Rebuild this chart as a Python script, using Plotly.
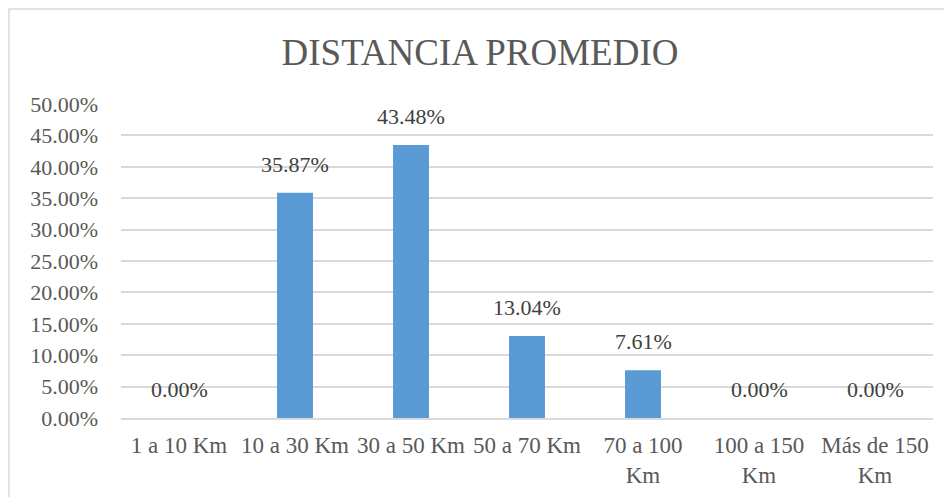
import plotly.graph_objects as go

categories = ["1 a 10 Km", "10 a 30 Km", "30 a 50 Km", "50 a 70 Km",
              "70 a 100<br>Km", "100 a 150<br>Km", "Más de 150<br>Km"]
values = [0.0, 35.87, 43.48, 13.04, 7.61, 0.0, 0.0]
value_labels = ["0.00%", "35.87%", "43.48%", "13.04%", "7.61%", "0.00%", "0.00%"]
y_ticks = [0, 5, 10, 15, 20, 25, 30, 35, 40, 45, 50]
y_tick_labels = ["%.2f%%" % t for t in y_ticks]

FONT = "Liberation Serif, Times New Roman, serif"

# page has an 8px body margin; figure sized to fill the rest
W, H = 944, 489
ML, MT, MR, MB = 113, 96, 19, 79
PW, PH = W - ML - MR, H - MT - MB

fig = go.Figure()
fig.add_trace(go.Bar(
    x=categories, y=values,
    marker=dict(color="#5B9BD5", line=dict(width=0)),
    hoverinfo="skip",
))

for c, v, lab in zip(categories, values, value_labels):
    fig.add_annotation(x=c, y=v, text=lab, showarrow=False,
                       xref="x", yref="y", yanchor="bottom", yshift=14,
                       font=dict(family=FONT, size=22, color="#404040"))

fig.add_shape(type="rect", xref="paper", yref="paper",
              x0=-(ML - 1) / PW, x1=1 + (MR + 20) / PW,
              y0=-(MB + 20) / PH, y1=1 + (MT - 1) / PH,
              line=dict(color="#d9d9d9", width=1.5), fillcolor="rgba(0,0,0,0)",
              layer="below")

fig.update_layout(
    width=W, height=H,
    margin=dict(l=ML, r=MR, t=MT, b=MB, autoexpand=False),
    paper_bgcolor="white", plot_bgcolor="white",
    bargap=0.69,
    showlegend=False,
    title=dict(text="DISTANCIA PROMEDIO", x=0.5, xanchor="center",
               y=1 - 44 / H, yanchor="middle",
               font=dict(family=FONT, size=37, color="#595959")),
    font=dict(family=FONT, size=22, color="#595959"),
    xaxis=dict(showgrid=False, showline=True, linecolor="#d9d9d9", linewidth=1.5,
               ticks="", tickfont=dict(family=FONT, size=23, color="#595959"),
               ticklabelstandoff=6, fixedrange=True, automargin=False),
    yaxis=dict(range=[0, 50], tickvals=y_ticks, ticktext=y_tick_labels,
               showgrid=True, gridcolor="#d9d9d9", gridwidth=1.5,
               zeroline=False, showline=False, ticks="",
               tickfont=dict(family=FONT, size=22, color="#595959"),
               ticklabelstandoff=22, fixedrange=True, automargin=False),
)

fig.write_html("out.html")
